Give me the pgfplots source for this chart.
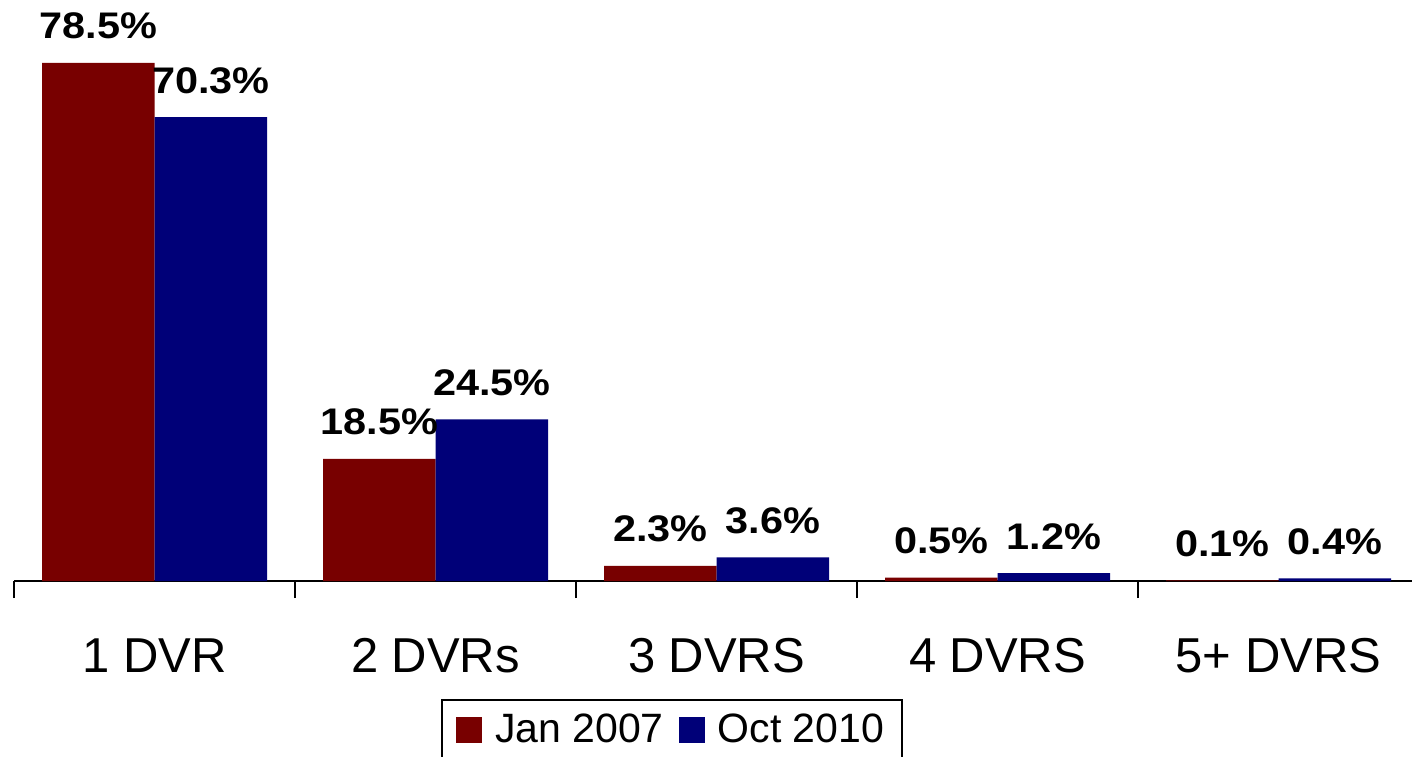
\documentclass[border=0pt]{standalone}
\usepackage{pgfplots}
\pgfplotsset{compat=1.18}
\usepackage{fontspec}
\setmainfont{Liberation Sans}
\newfontfamily\lblfamily[FakeStretch=1.12]{Liberation Sans}
\definecolor{jan}{RGB}{120,0,0}
\definecolor{oct}{RGB}{0,0,120}
\newcommand{\lblfont}{\lblfamily\fontsize{18.5}{22}\selectfont\bfseries}
\begin{document}
\begin{tikzpicture}
\begin{axis}[
 name=ax,
 width=699pt, height=290.5pt, scale only axis,
 xmin=-0.5, xmax=4.475, ymin=0, ymax=88.03,
 ybar=0pt, bar width=56.25pt,
 axis x line*=bottom, axis y line=none,
 xtick={0,1,2,3,4},
 xticklabels={1 DVR,2 DVRs,3 DVRS,4 DVRS,5+ DVRS},
 minor xtick={-0.5,0.5,1.5,2.5,3.5},
 major tick length=0pt, minor tick length=8.5pt, tick align=outside,
 tick style={black, line width=0.75pt},
 x axis line style={black, line width=1pt},
 xticklabel style={font=\fontsize{24.5}{29}\selectfont, inner sep=0pt, anchor=north, yshift=-28.5pt},
 /pgf/number format/assume math mode=true,
 nodes near coords={\lblfont\pgfmathprintnumber[fixed, fixed zerofill, precision=1]{\pgfplotspointmeta}\%},
 every node near coord/.append style={font=\lblfont, anchor=base, inner sep=0pt, yshift=12pt, text=black},
 legend columns=2,
 legend style={at={(axis description cs:0.4707,-0.2031)}, anchor=north, draw=black, line width=0.75pt,
   font=\fontsize{20.5}{24}\selectfont, inner xsep=7pt, inner ysep=5pt,
   /tikz/every even column/.append style={column sep=5.5pt}},
]
\addplot[fill=jan, draw=none, legend image code/.code={\fill[jan] (0pt,-6.5pt) rectangle (13pt,6.5pt); \path (17.5pt,0pt);}]
  coordinates {(0,78.5) (1,18.5) (2,2.3) (3,0.5) (4,0.1)};
\addplot[fill=oct, draw=none, legend image code/.code={\fill[oct] (0pt,-6.5pt) rectangle (13pt,6.5pt); \path (17.5pt,0pt);}]
  coordinates {(0,70.3) (1,24.5) (2,3.6) (3,1.2) (4,0.4)};
\legend{Jan 2007, Oct 2010}
\end{axis}
\pgfresetboundingbox
\useasboundingbox ([xshift=-7pt, yshift=-87.5pt]ax.south west) rectangle (ax.north east);
\end{tikzpicture}
\end{document}
